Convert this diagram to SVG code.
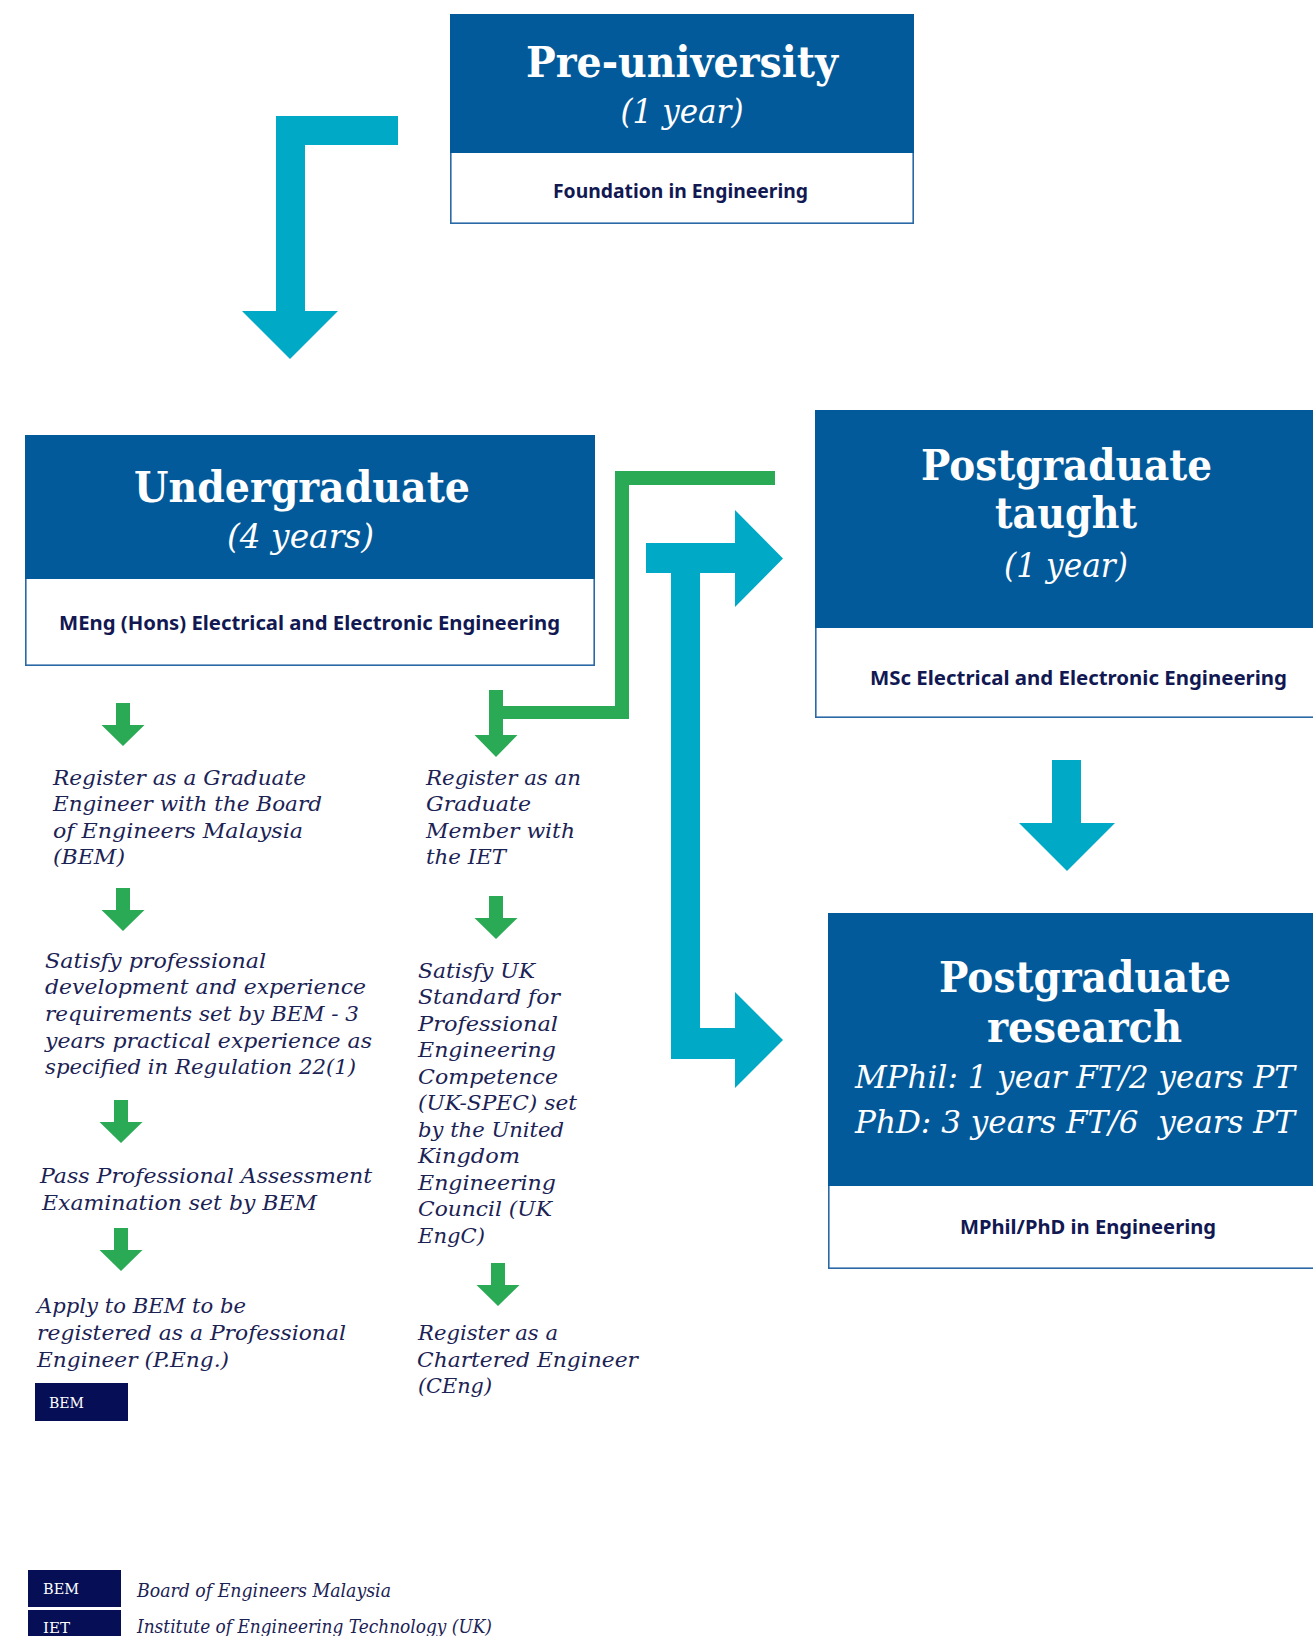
<svg xmlns="http://www.w3.org/2000/svg" xmlns:xlink="http://www.w3.org/1999/xlink" width="1313" height="1636" viewBox="0 0 1313 1636">
<style>
.hdr{fill:#035a9a}
.box{fill:#ffffff;stroke:#2a68a6;stroke-width:1.6}
.ttl{font-family:"DejaVu Serif",serif;font-weight:bold;fill:#ffffff}
.dur{font-family:"DejaVu Serif",serif;font-style:italic;fill:#ffffff}
.sub{font-family:"Noto Sans","Liberation Sans",sans-serif;font-weight:bold;fill:#111852;font-size:20px}
.step{font-family:"DejaVu Serif",serif;font-style:italic;fill:#1b2254;font-size:21px}
.cy{fill:#00aac7}
.gr{fill:#2baa55}
.tag{fill:#060f55}
.tagt{font-family:"DejaVu Serif",serif;fill:#ffffff;font-size:15px}
.leg{font-family:"DejaVu Serif",serif;font-style:italic;fill:#1b2254;font-size:18px}
</style>
<defs>
<path id="garrow" d="M-7,0 H7 V22 H21.5 L0,43 L-21.5,22 H-7 Z"/>
</defs>
<rect width="1313" height="1636" fill="#ffffff"/>

<g id="connectors">
  <path class="cy" d="M276,116 H398 V145 H305 V311 H338 L290,359 L242,311 H276 Z"/>
  <path class="cy" d="M646,543 H735 V510 L783,558.5 L735,607 V573 H700 V1028 H735 V992 L783,1040 L735,1088 V1059 H671 V573 H646 Z"/>
  <path class="cy" d="M1052,760 H1081 V823 H1115 L1067,871 L1019,823 H1052 Z"/>
  <path class="gr" d="M775,471 V485 H629 V719 H503 V735 H517.5 L496,757 L474.5,735 H489 V690 H503 V706 H615 V471 Z"/>
  <use xlink:href="#garrow" class="gr" x="123" y="703"/>
  <use xlink:href="#garrow" class="gr" x="123" y="888"/>
  <use xlink:href="#garrow" class="gr" x="121" y="1100"/>
  <use xlink:href="#garrow" class="gr" x="121" y="1228"/>
  <use xlink:href="#garrow" class="gr" x="496" y="896"/>
  <use xlink:href="#garrow" class="gr" x="498" y="1263"/>
</g>

<g id="pre-university">
  <rect class="box" x="450.8" y="14.8" width="462.4" height="208.4"/>
  <rect class="hdr" x="450" y="14" width="464" height="139"/>
  <text class="ttl" x="682" y="77" font-size="42" text-anchor="middle" textLength="312" lengthAdjust="spacingAndGlyphs">Pre-university</text>
  <text class="dur" x="682" y="123" font-size="33" text-anchor="middle" textLength="123" lengthAdjust="spacingAndGlyphs">(1 year)</text>
  <text class="sub" x="680.5" y="198" text-anchor="middle" textLength="255" lengthAdjust="spacingAndGlyphs">Foundation in Engineering</text>
</g>

<g id="undergraduate">
  <rect class="box" x="25.8" y="435.8" width="568.4" height="229.4"/>
  <rect class="hdr" x="25" y="435" width="570" height="144"/>
  <text class="ttl" x="302" y="502" font-size="42" text-anchor="middle" textLength="336" lengthAdjust="spacingAndGlyphs">Undergraduate</text>
  <text class="dur" x="300.5" y="548" font-size="33" text-anchor="middle" textLength="147" lengthAdjust="spacingAndGlyphs">(4 years)</text>
  <text class="sub" x="309.5" y="630" text-anchor="middle" textLength="501" lengthAdjust="spacingAndGlyphs">MEng (Hons) Electrical and Electronic Engineering</text>
</g>

<g id="pg-taught">
  <rect class="box" x="815.8" y="410.8" width="510" height="306.4"/>
  <rect class="hdr" x="815" y="410" width="512" height="218"/>
  <text class="ttl" x="1066.5" y="480" font-size="42" text-anchor="middle" textLength="291" lengthAdjust="spacingAndGlyphs">Postgraduate</text>
  <text class="ttl" x="1066" y="528" font-size="42" text-anchor="middle" textLength="142" lengthAdjust="spacingAndGlyphs">taught</text>
  <text class="dur" x="1066" y="577" font-size="33" text-anchor="middle" textLength="124" lengthAdjust="spacingAndGlyphs">(1 year)</text>
  <text class="sub" x="1078.5" y="685" text-anchor="middle" textLength="417" lengthAdjust="spacingAndGlyphs">MSc Electrical and Electronic Engineering</text>
</g>

<g id="pg-research">
  <rect class="box" x="828.8" y="913.8" width="510" height="354.4"/>
  <rect class="hdr" x="828" y="913" width="512" height="273"/>
  <text class="ttl" x="1085" y="992" font-size="42" text-anchor="middle" textLength="292" lengthAdjust="spacingAndGlyphs">Postgraduate</text>
  <text class="ttl" x="1084.5" y="1042" font-size="42" text-anchor="middle" textLength="195" lengthAdjust="spacingAndGlyphs">research</text>
  <text class="dur" x="855" y="1088" font-size="32" textLength="440" lengthAdjust="spacingAndGlyphs">MPhil: 1 year FT/2 years PT</text>
  <text class="dur" x="855" y="1133" font-size="32" textLength="440" lengthAdjust="spacingAndGlyphs" xml:space="preserve">PhD: 3 years FT/6  years PT</text>
  <text class="sub" x="1088" y="1234" text-anchor="middle" textLength="256" lengthAdjust="spacingAndGlyphs">MPhil/PhD in Engineering</text>
</g>

<g id="bem-register">
  <text class="step" x="53" y="785" textLength="253" lengthAdjust="spacingAndGlyphs">Register as a Graduate</text>
  <text class="step" x="53" y="811" textLength="269" lengthAdjust="spacingAndGlyphs">Engineer with the Board</text>
  <text class="step" x="53" y="838" textLength="250" lengthAdjust="spacingAndGlyphs">of Engineers Malaysia</text>
  <text class="step" x="53" y="864" textLength="72" lengthAdjust="spacingAndGlyphs">(BEM)</text>
</g>

<g id="bem-experience">
  <text class="step" x="45" y="968" textLength="221" lengthAdjust="spacingAndGlyphs">Satisfy professional</text>
  <text class="step" x="45" y="994" textLength="321" lengthAdjust="spacingAndGlyphs">development and experience</text>
  <text class="step" x="45" y="1021" textLength="314" lengthAdjust="spacingAndGlyphs">requirements set by BEM - 3</text>
  <text class="step" x="45" y="1048" textLength="327" lengthAdjust="spacingAndGlyphs">years practical experience as</text>
  <text class="step" x="45" y="1074" textLength="311" lengthAdjust="spacingAndGlyphs">specified in Regulation 22(1)</text>
</g>

<g id="bem-exam">
  <text class="step" x="40" y="1183" textLength="332" lengthAdjust="spacingAndGlyphs">Pass Professional Assessment</text>
  <text class="step" x="42" y="1210" textLength="275" lengthAdjust="spacingAndGlyphs">Examination set by BEM</text>
</g>

<g id="bem-peng">
  <text class="step" x="37" y="1313" textLength="209" lengthAdjust="spacingAndGlyphs">Apply to BEM to be</text>
  <text class="step" x="37" y="1340" textLength="309" lengthAdjust="spacingAndGlyphs">registered as a Professional</text>
  <text class="step" x="37" y="1367" textLength="192" lengthAdjust="spacingAndGlyphs">Engineer (P.Eng.)</text>
</g>

<g id="bem-badge">
  <rect class="tag" x="35" y="1383" width="93" height="38"/>
  <text class="tagt" x="49" y="1408" textLength="35" lengthAdjust="spacingAndGlyphs">BEM</text>
</g>

<g id="iet-register">
  <text class="step" x="426" y="785" textLength="155" lengthAdjust="spacingAndGlyphs">Register as an</text>
  <text class="step" x="426" y="811" textLength="105" lengthAdjust="spacingAndGlyphs">Graduate</text>
  <text class="step" x="426" y="838" textLength="149" lengthAdjust="spacingAndGlyphs">Member with</text>
  <text class="step" x="426" y="864" textLength="80" lengthAdjust="spacingAndGlyphs">the IET</text>
</g>

<g id="iet-ukspec">
  <text class="step" x="418" y="978" textLength="117" lengthAdjust="spacingAndGlyphs">Satisfy UK</text>
  <text class="step" x="418" y="1004" textLength="142" lengthAdjust="spacingAndGlyphs">Standard for</text>
  <text class="step" x="418" y="1031" textLength="140" lengthAdjust="spacingAndGlyphs">Professional</text>
  <text class="step" x="418" y="1057" textLength="138" lengthAdjust="spacingAndGlyphs">Engineering</text>
  <text class="step" x="418" y="1084" textLength="140" lengthAdjust="spacingAndGlyphs">Competence</text>
  <text class="step" x="418" y="1110" textLength="159" lengthAdjust="spacingAndGlyphs">(UK-SPEC) set</text>
  <text class="step" x="418" y="1137" textLength="146" lengthAdjust="spacingAndGlyphs">by the United</text>
  <text class="step" x="418" y="1163" textLength="102" lengthAdjust="spacingAndGlyphs">Kingdom</text>
  <text class="step" x="418" y="1190" textLength="138" lengthAdjust="spacingAndGlyphs">Engineering</text>
  <text class="step" x="418" y="1216" textLength="134" lengthAdjust="spacingAndGlyphs">Council (UK</text>
  <text class="step" x="418" y="1243" textLength="67" lengthAdjust="spacingAndGlyphs">EngC)</text>
</g>

<g id="iet-ceng">
  <text class="step" x="418" y="1340" textLength="140" lengthAdjust="spacingAndGlyphs">Register as a</text>
  <text class="step" x="417" y="1367" textLength="221" lengthAdjust="spacingAndGlyphs">Chartered Engineer</text>
  <text class="step" x="418" y="1393" textLength="74" lengthAdjust="spacingAndGlyphs">(CEng)</text>
</g>

<g id="legend">
  <rect class="tag" x="28" y="1570" width="93" height="37"/>
  <text class="tagt" x="43" y="1594" textLength="36" lengthAdjust="spacingAndGlyphs">BEM</text>
  <text class="leg" x="137" y="1597" textLength="254" lengthAdjust="spacingAndGlyphs">Board of Engineers Malaysia</text>
  <rect class="tag" x="28" y="1610" width="93" height="40"/>
  <text class="tagt" x="43" y="1633" textLength="27" lengthAdjust="spacingAndGlyphs">IET</text>
  <text class="leg" x="137" y="1633" textLength="355" lengthAdjust="spacingAndGlyphs">Institute of Engineering Technology (UK)</text>
</g>
</svg>
